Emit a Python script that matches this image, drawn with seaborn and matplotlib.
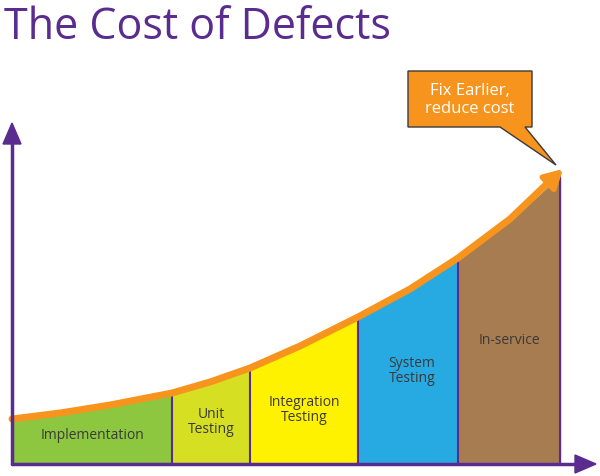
import matplotlib
matplotlib.use("Agg")
import matplotlib.pyplot as plt
import seaborn as sns
import numpy as np
import pandas as pd
from matplotlib.patches import Polygon

sns.set_theme(style="white")
plt.rcParams['font.family'] = ['Open Sans', 'DejaVu Sans']

stages = ["Implementation", "Unit\nTesting", "Integration\nTesting", "System\nTesting", "In-service"]
bounds = [12, 172, 250, 358, 458, 560]
colors = ["#8dc63f", "#d7df23", "#fff200", "#27aae1", "#a77c50"]
label_y = [436, 422, 410, 371, 341]
curve_x = [12, 60, 110, 172, 210, 250, 300, 358, 410, 458, 510, 560]
curve_y = [420, 414, 406, 394, 383, 369, 347, 318, 290, 259, 220, 175]

purple = "#5b2c8f"
orange = "#f7941d"

fig = plt.figure(figsize=(6, 4.77), dpi=100)
ax = fig.add_axes([0, 0, 1, 1])
ax.set_xlim(0, 600)
ax.set_ylim(477, 0)
ax.axis("off")

cx = np.array(curve_x, float)
cy = np.array(curve_y, float)
for i, name in enumerate(stages):
    xs = np.linspace(bounds[i], bounds[i + 1], 40)
    ys = np.interp(xs, cx, cy) + 3
    ax.fill_between(xs, ys, 465, color=colors[i], zorder=1)
    ax.plot([bounds[i + 1]] * 2, [np.interp(bounds[i + 1], cx, cy) + 3, 465], color=purple, lw=1.5, zorder=2)
    ax.text((bounds[i] + bounds[i + 1]) / 2 + (4 if i == 3 else 0), label_y[i], name,
            ha="center", va="center", fontsize=10, color="#3a3a3a", linespacing=1.0, zorder=3)

df = pd.DataFrame({"x": curve_x[:-1] + [552], "y": curve_y[:-1] + [180]})
sns.lineplot(data=df, x="x", y="y", ax=ax, color=orange, lw=5, zorder=4, legend=False)
ax.annotate("", xy=(565, 168), xytext=(540, 192),
            arrowprops=dict(arrowstyle="-|>,head_width=0.5,head_length=0.9", color=orange, lw=4), zorder=5)
ax.set_xlim(0, 600); ax.set_ylim(477, 0); ax.axis("off")

# axes arrows
ax.plot([12, 12], [465, 135], color=purple, lw=2.5, zorder=6)
ax.plot([12, 585], [465, 465], color=purple, lw=2.5, zorder=6)
ax.add_patch(Polygon([[3, 145], [21, 145], [12, 124]], color=purple, zorder=6))
ax.add_patch(Polygon([[575, 456], [575, 474], [596, 465]], color=purple, zorder=6))

# callout
ax.add_patch(Polygon([[408, 72], [532, 72], [532, 128], [525, 128], [556, 166], [500, 128], [408, 128]],
                     closed=True, facecolor=orange, edgecolor="#3a3a3a", lw=1, zorder=7))
ax.text(470, 100, "Fix Earlier,\nreduce cost", ha="center", va="center", color="white",
        fontsize=12, linespacing=1.1, zorder=8)

ax.text(4, 28, "The Cost of Defects", ha="left", va="center", color=purple, fontsize=31)

fig.savefig("out.png", dpi=100)
